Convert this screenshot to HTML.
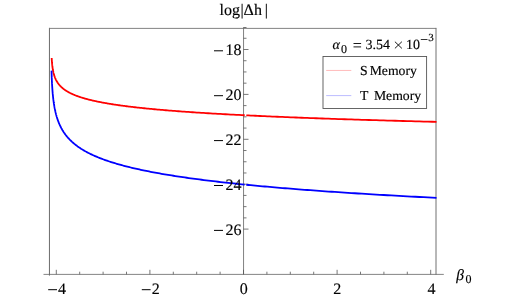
<!DOCTYPE html>
<html><head><meta charset="utf-8"><style>
html,body{margin:0;padding:0;background:#fff;}
body{width:518px;height:300px;overflow:hidden;position:relative;font-family:"Liberation Serif",serif;color:#000;}
svg{position:absolute;left:0;top:0;will-change:transform;}
text{font-family:"Liberation Serif",serif;fill:#000;text-rendering:geometricPrecision;stroke:#000;stroke-width:0.15px;}
</style></head><body>
<svg width="518" height="300" viewBox="0 0 518 300">
<g fill="none">
<line x1="49.45" y1="275.6" x2="49.45" y2="27.9" stroke="#5a5a5a" stroke-width="0.9"/>
<line x1="49" y1="28.4" x2="436.2" y2="28.4" stroke="#747474" stroke-width="0.9"/>
<line x1="436.0" y1="27.9" x2="436.0" y2="274.7" stroke="#707070" stroke-width="1"/>
<line x1="43.5" y1="274.4" x2="443.8" y2="274.4" stroke="#666" stroke-width="0.8"/>
<line x1="243.55" y1="27.3" x2="243.55" y2="274.4" stroke="#6a6a6a" stroke-width="0.85"/>
<g stroke="#555" stroke-width="0.8">
<line x1="56.30" y1="274.4" x2="56.30" y2="269.79999999999995"/>
<line x1="79.70" y1="274.4" x2="79.70" y2="271.7"/>
<line x1="103.10" y1="274.4" x2="103.10" y2="271.7"/>
<line x1="126.50" y1="274.4" x2="126.50" y2="271.7"/>
<line x1="149.90" y1="274.4" x2="149.90" y2="269.79999999999995"/>
<line x1="173.30" y1="274.4" x2="173.30" y2="271.7"/>
<line x1="196.70" y1="274.4" x2="196.70" y2="271.7"/>
<line x1="220.10" y1="274.4" x2="220.10" y2="271.7"/>
<line x1="243.50" y1="274.4" x2="243.50" y2="269.79999999999995"/>
<line x1="266.90" y1="274.4" x2="266.90" y2="271.7"/>
<line x1="290.30" y1="274.4" x2="290.30" y2="271.7"/>
<line x1="313.70" y1="274.4" x2="313.70" y2="271.7"/>
<line x1="337.10" y1="274.4" x2="337.10" y2="269.79999999999995"/>
<line x1="360.50" y1="274.4" x2="360.50" y2="271.7"/>
<line x1="383.90" y1="274.4" x2="383.90" y2="271.7"/>
<line x1="407.30" y1="274.4" x2="407.30" y2="271.7"/>
<line x1="430.70" y1="274.4" x2="430.70" y2="269.79999999999995"/>
<line x1="243.5" y1="27.50" x2="246.5" y2="27.50"/>
<line x1="243.5" y1="38.27" x2="246.5" y2="38.27"/>
<line x1="243.5" y1="49.50" x2="248.5" y2="49.50"/>
<line x1="243.5" y1="60.73" x2="246.5" y2="60.73"/>
<line x1="243.5" y1="71.95" x2="246.5" y2="71.95"/>
<line x1="243.5" y1="83.17" x2="246.5" y2="83.17"/>
<line x1="243.5" y1="94.40" x2="248.5" y2="94.40"/>
<line x1="243.5" y1="105.62" x2="246.5" y2="105.62"/>
<line x1="243.5" y1="116.85" x2="246.5" y2="116.85"/>
<line x1="243.5" y1="128.07" x2="246.5" y2="128.07"/>
<line x1="243.5" y1="139.30" x2="248.5" y2="139.30"/>
<line x1="243.5" y1="150.52" x2="246.5" y2="150.52"/>
<line x1="243.5" y1="161.75" x2="246.5" y2="161.75"/>
<line x1="243.5" y1="172.97" x2="246.5" y2="172.97"/>
<line x1="243.5" y1="184.20" x2="248.5" y2="184.20"/>
<line x1="243.5" y1="195.42" x2="246.5" y2="195.42"/>
<line x1="243.5" y1="206.65" x2="246.5" y2="206.65"/>
<line x1="243.5" y1="217.88" x2="246.5" y2="217.88"/>
<line x1="243.5" y1="229.10" x2="248.5" y2="229.10"/>
</g>
</g>
<path d="M51.69,58.00 L51.70,58.14 L51.71,58.29 L51.71,58.43 L51.72,58.57 L51.73,58.72 L51.74,58.86 L51.75,59.00 L51.75,59.15 L51.76,59.29 L51.77,59.43 L51.78,59.57 L51.79,59.72 L51.80,59.86 L51.81,60.00 L51.81,60.15 L51.82,60.29 L51.83,60.43 L51.84,60.58 L51.85,60.72 L51.86,60.86 L51.87,61.01 L51.88,61.15 L51.89,61.29 L51.90,61.44 L51.91,61.58 L51.92,61.72 L51.93,61.87 L51.95,62.01 L51.96,62.15 L51.97,62.29 L51.98,62.44 L51.99,62.58 L52.00,62.72 L52.02,62.87 L52.03,63.01 L52.04,63.15 L52.05,63.30 L52.07,63.44 L52.08,63.58 L52.09,63.73 L52.10,63.87 L52.12,64.01 L52.13,64.16 L52.15,64.30 L52.16,64.44 L52.17,64.58 L52.19,64.73 L52.20,64.87 L52.22,65.01 L52.23,65.16 L52.25,65.30 L52.27,65.44 L52.28,65.59 L52.30,65.73 L52.31,65.87 L52.33,66.02 L52.35,66.16 L52.37,66.30 L52.38,66.45 L52.40,66.59 L52.42,66.73 L52.44,66.88 L52.46,67.02 L52.47,67.16 L52.49,67.30 L52.51,67.45 L52.53,67.59 L52.55,67.73 L52.57,67.88 L52.59,68.02 L52.62,68.16 L52.64,68.31 L52.66,68.45 L52.68,68.59 L52.70,68.74 L52.72,68.88 L52.75,69.02 L52.77,69.17 L52.79,69.31 L52.82,69.45 L52.84,69.60 L52.87,69.74 L52.89,69.88 L52.92,70.02 L52.94,70.17 L52.97,70.31 L53.00,70.45 L53.02,70.60 L53.05,70.74 L53.08,70.88 L53.11,71.03 L53.14,71.17 L53.17,71.31 L53.19,71.46 L53.22,71.60 L53.26,71.74 L53.29,71.89 L53.32,72.03 L53.35,72.17 L53.38,72.31 L53.41,72.46 L53.45,72.60 L53.48,72.74 L53.52,72.89 L53.55,73.03 L53.59,73.17 L53.62,73.32 L53.66,73.46 L53.70,73.60 L53.73,73.75 L53.77,73.89 L53.81,74.03 L53.85,74.18 L53.89,74.32 L53.93,74.46 L53.97,74.61 L54.01,74.75 L54.05,74.89 L54.10,75.03 L54.14,75.18 L54.19,75.32 L54.23,75.46 L54.28,75.61 L54.32,75.75 L54.37,75.89 L54.42,76.04 L54.47,76.18 L54.51,76.32 L54.56,76.47 L54.62,76.61 L54.67,76.75 L54.72,76.90 L54.77,77.04 L54.83,77.18 L54.88,77.33 L54.94,77.47 L54.99,77.61 L55.05,77.75 L55.11,77.90 L55.17,78.04 L55.23,78.18 L55.29,78.33 L55.35,78.47 L55.41,78.61 L55.47,78.76 L55.54,78.90 L55.60,79.04 L55.67,79.19 L55.74,79.33 L55.80,79.47 L55.87,79.62 L55.94,79.76 L56.02,79.90 L56.09,80.04 L56.16,80.19 L56.24,80.33 L56.31,80.47 L56.39,80.62 L56.47,80.76 L56.55,80.90 L56.63,81.05 L56.71,81.19 L56.79,81.33 L56.88,81.48 L56.96,81.62 L57.05,81.76 L57.14,81.91 L57.23,82.05 L57.32,82.19 L57.41,82.34 L57.50,82.48 L57.60,82.62 L57.69,82.76 L57.79,82.91 L57.89,83.05 L57.99,83.19 L58.09,83.34 L58.20,83.48 L58.30,83.62 L58.41,83.77 L58.52,83.91 L58.63,84.05 L58.74,84.20 L58.85,84.34 L58.97,84.48 L59.09,84.63 L59.21,84.77 L59.33,84.91 L59.45,85.06 L59.57,85.20 L59.70,85.34 L59.83,85.48 L59.96,85.63 L60.09,85.77 L60.22,85.91 L60.36,86.06 L60.50,86.20 L60.64,86.34 L60.78,86.49 L60.92,86.63 L61.07,86.77 L61.22,86.92 L61.37,87.06 L61.52,87.20 L61.68,87.35 L61.84,87.49 L62.00,87.63 L62.16,87.77 L62.32,87.92 L62.49,88.06 L62.66,88.20 L62.83,88.35 L63.01,88.49 L63.19,88.63 L63.37,88.78 L63.55,88.92 L63.74,89.06 L63.93,89.21 L64.12,89.35 L64.31,89.49 L64.51,89.64 L64.71,89.78 L64.91,89.92 L65.12,90.07 L65.33,90.21 L65.54,90.35 L65.76,90.49 L65.98,90.64 L66.20,90.78 L66.43,90.92 L66.66,91.07 L66.89,91.21 L67.12,91.35 L67.36,91.50 L67.61,91.64 L67.86,91.78 L68.11,91.93 L68.36,92.07 L68.62,92.21 L68.88,92.36 L69.15,92.50 L69.42,92.64 L69.69,92.79 L69.97,92.93 L70.25,93.07 L70.54,93.21 L70.83,93.36 L71.13,93.50 L71.43,93.64 L71.73,93.79 L72.04,93.93 L72.36,94.07 L72.68,94.22 L73.00,94.36 L73.33,94.50 L73.66,94.65 L74.00,94.79 L74.34,94.93 L74.69,95.08 L75.05,95.22 L75.41,95.36 L75.77,95.50 L76.14,95.65 L76.52,95.79 L76.90,95.93 L77.28,96.08 L77.68,96.22 L78.08,96.36 L78.48,96.51 L78.89,96.65 L79.31,96.79 L79.73,96.94 L80.16,97.08 L80.60,97.22 L81.04,97.37 L81.49,97.51 L81.95,97.65 L82.41,97.80 L82.88,97.94 L83.36,98.08 L83.84,98.22 L84.34,98.37 L84.83,98.51 L85.34,98.65 L85.86,98.80 L86.38,98.94 L86.91,99.08 L87.45,99.23 L87.99,99.37 L88.55,99.51 L89.11,99.66 L89.68,99.80 L90.26,99.94 L90.85,100.09 L91.45,100.23 L92.05,100.37 L92.67,100.52 L93.29,100.66 L93.93,100.80 L94.57,100.94 L95.22,101.09 L95.89,101.23 L96.56,101.37 L97.24,101.52 L97.94,101.66 L98.64,101.80 L99.36,101.95 L100.08,102.09 L100.82,102.23 L101.57,102.38 L102.32,102.52 L103.10,102.66 L103.88,102.81 L104.67,102.95 L105.48,103.09 L106.29,103.23 L107.12,103.38 L107.97,103.52 L108.82,103.66 L109.69,103.81 L110.57,103.95 L111.47,104.09 L112.37,104.24 L113.30,104.38 L114.23,104.52 L115.18,104.67 L116.15,104.81 L117.12,104.95 L118.12,105.10 L119.13,105.24 L120.15,105.38 L121.19,105.53 L122.24,105.67 L123.31,105.81 L124.40,105.95 L125.50,106.10 L126.62,106.24 L127.76,106.38 L128.91,106.53 L130.08,106.67 L131.27,106.81 L132.48,106.96 L133.70,107.10 L134.95,107.24 L136.21,107.39 L137.49,107.53 L138.79,107.67 L140.11,107.82 L141.45,107.96 L142.81,108.10 L144.19,108.25 L145.59,108.39 L147.01,108.53 L148.45,108.67 L149.92,108.82 L151.41,108.96 L152.92,109.10 L154.45,109.25 L156.01,109.39 L157.58,109.53 L159.19,109.68 L160.82,109.82 L162.47,109.96 L164.14,110.11 L165.84,110.25 L167.57,110.39 L169.33,110.54 L171.11,110.68 L172.91,110.82 L174.75,110.96 L176.61,111.11 L178.50,111.25 L180.42,111.39 L182.36,111.54 L184.34,111.68 L186.35,111.82 L188.38,111.97 L190.45,112.11 L192.55,112.25 L194.68,112.40 L196.84,112.54 L199.03,112.68 L201.26,112.83 L203.52,112.97 L205.82,113.11 L208.15,113.26 L210.51,113.40 L212.91,113.54 L215.35,113.68 L217.82,113.83 L220.33,113.97 L222.88,114.11 L225.47,114.26 L228.09,114.40 L230.76,114.54 L233.46,114.69 L236.21,114.83 L239.00,114.97 L241.83,115.12 L244.70,115.26 M246.30,115.34 L248.53,115.45 L250.78,115.56 L253.05,115.66 L255.35,115.77 L257.68,115.88 L260.04,115.99 L262.42,116.10 L264.83,116.21 L267.27,116.32 L269.73,116.42 L272.22,116.53 L274.75,116.64 L277.30,116.75 L279.87,116.86 L282.48,116.97 L285.12,117.08 L287.79,117.18 L290.49,117.29 L293.22,117.40 L295.98,117.51 L298.77,117.62 L301.59,117.73 L304.45,117.84 L307.34,117.94 L310.26,118.05 L313.21,118.16 L316.20,118.27 L319.23,118.38 L322.28,118.49 L325.37,118.59 L328.50,118.70 L331.67,118.81 L334.86,118.92 L338.10,119.03 L341.37,119.14 L344.68,119.25 L348.03,119.35 L351.42,119.46 L354.84,119.57 L358.30,119.68 L361.81,119.79 L365.35,119.90 L368.93,120.01 L372.56,120.11 L376.22,120.22 L379.93,120.33 L383.68,120.44 L387.47,120.55 L391.31,120.66 L395.19,120.77 L399.11,120.87 L403.08,120.98 L407.09,121.09 L411.15,121.20 L415.26,121.31 L419.41,121.42 L423.61,121.53 L427.86,121.63 L432.15,121.74 L436.50,121.85" stroke="#ff0000" stroke-width="1.8" fill="none" stroke-linejoin="round"/>
<path d="M51.52,70.60 L51.53,70.88 L51.54,71.17 L51.55,71.45 L51.56,71.74 L51.56,72.02 L51.57,72.31 L51.58,72.59 L51.59,72.88 L51.60,73.16 L51.61,73.45 L51.62,73.73 L51.62,74.02 L51.63,74.30 L51.64,74.59 L51.65,74.87 L51.66,75.16 L51.67,75.44 L51.68,75.73 L51.69,76.01 L51.70,76.30 L51.71,76.58 L51.72,76.87 L51.73,77.15 L51.75,77.44 L51.76,77.72 L51.77,78.01 L51.78,78.29 L51.79,78.58 L51.80,78.86 L51.81,79.15 L51.83,79.43 L51.84,79.72 L51.85,80.00 L51.86,80.29 L51.88,80.57 L51.89,80.86 L51.90,81.14 L51.92,81.43 L51.93,81.71 L51.94,82.00 L51.96,82.28 L51.97,82.57 L51.99,82.85 L52.00,83.14 L52.02,83.42 L52.03,83.71 L52.05,83.99 L52.06,84.28 L52.08,84.56 L52.09,84.85 L52.11,85.13 L52.13,85.42 L52.14,85.70 L52.16,85.99 L52.18,86.27 L52.20,86.56 L52.21,86.84 L52.23,87.13 L52.25,87.41 L52.27,87.70 L52.29,87.98 L52.31,88.27 L52.33,88.55 L52.35,88.84 L52.37,89.12 L52.39,89.41 L52.41,89.69 L52.43,89.98 L52.45,90.26 L52.47,90.55 L52.49,90.83 L52.51,91.12 L52.54,91.40 L52.56,91.69 L52.58,91.97 L52.61,92.26 L52.63,92.54 L52.65,92.83 L52.68,93.11 L52.70,93.40 L52.73,93.68 L52.76,93.97 L52.78,94.25 L52.81,94.54 L52.84,94.82 L52.86,95.11 L52.89,95.39 L52.92,95.68 L52.95,95.96 L52.98,96.25 L53.01,96.53 L53.04,96.82 L53.07,97.10 L53.10,97.39 L53.13,97.67 L53.16,97.96 L53.19,98.24 L53.22,98.53 L53.26,98.81 L53.29,99.10 L53.32,99.38 L53.36,99.67 L53.39,99.95 L53.43,100.24 L53.47,100.52 L53.50,100.81 L53.54,101.09 L53.58,101.38 L53.62,101.66 L53.66,101.95 L53.69,102.23 L53.73,102.52 L53.78,102.80 L53.82,103.09 L53.86,103.37 L53.90,103.66 L53.94,103.94 L53.99,104.23 L54.03,104.51 L54.08,104.80 L54.12,105.08 L54.17,105.37 L54.22,105.65 L54.27,105.94 L54.31,106.22 L54.36,106.51 L54.41,106.79 L54.46,107.08 L54.52,107.36 L54.57,107.65 L54.62,107.93 L54.68,108.22 L54.73,108.50 L54.79,108.79 L54.84,109.07 L54.90,109.36 L54.96,109.64 L55.02,109.93 L55.08,110.21 L55.14,110.50 L55.20,110.78 L55.26,111.07 L55.33,111.35 L55.39,111.64 L55.46,111.92 L55.52,112.21 L55.59,112.49 L55.66,112.78 L55.73,113.06 L55.80,113.35 L55.87,113.63 L55.94,113.92 L56.01,114.20 L56.09,114.49 L56.17,114.77 L56.24,115.06 L56.32,115.34 L56.40,115.63 L56.48,115.91 L56.56,116.20 L56.64,116.48 L56.73,116.77 L56.81,117.05 L56.90,117.34 L56.99,117.62 L57.08,117.91 L57.17,118.19 L57.26,118.48 L57.35,118.76 L57.45,119.05 L57.54,119.33 L57.64,119.62 L57.74,119.90 L57.84,120.19 L57.94,120.47 L58.05,120.76 L58.15,121.04 L58.26,121.33 L58.37,121.61 L58.48,121.90 L58.59,122.18 L58.70,122.47 L58.81,122.75 L58.93,123.04 L59.05,123.32 L59.17,123.61 L59.29,123.89 L59.41,124.18 L59.54,124.46 L59.67,124.75 L59.80,125.03 L59.93,125.32 L60.06,125.60 L60.20,125.89 L60.33,126.17 L60.47,126.46 L60.61,126.74 L60.76,127.03 L60.90,127.31 L61.05,127.60 L61.20,127.88 L61.35,128.17 L61.51,128.45 L61.66,128.74 L61.82,129.02 L61.98,129.31 L62.15,129.59 L62.31,129.88 L62.48,130.16 L62.65,130.45 L62.82,130.73 L63.00,131.02 L63.18,131.30 L63.36,131.59 L63.55,131.87 L63.73,132.16 L63.92,132.44 L64.11,132.73 L64.31,133.01 L64.51,133.30 L64.71,133.58 L64.91,133.87 L65.12,134.15 L65.33,134.44 L65.55,134.72 L65.76,135.01 L65.98,135.29 L66.21,135.58 L66.43,135.86 L66.66,136.15 L66.90,136.43 L67.13,136.72 L67.37,137.00 L67.62,137.29 L67.86,137.57 L68.12,137.86 L68.37,138.14 L68.63,138.43 L68.89,138.71 L69.16,139.00 L69.43,139.28 L69.70,139.57 L69.98,139.85 L70.27,140.14 L70.55,140.42 L70.85,140.71 L71.14,140.99 L71.44,141.28 L71.75,141.56 L72.05,141.85 L72.37,142.13 L72.69,142.42 L73.01,142.70 L73.34,142.99 L73.67,143.27 L74.01,143.56 L74.35,143.84 L74.70,144.13 L75.05,144.41 L75.41,144.70 L75.78,144.98 L76.15,145.27 L76.52,145.55 L76.90,145.84 L77.29,146.12 L77.68,146.41 L78.08,146.69 L78.48,146.98 L78.89,147.26 L79.30,147.55 L79.73,147.83 L80.15,148.12 L80.59,148.40 L81.03,148.69 L81.48,148.97 L81.93,149.26 L82.39,149.54 L82.86,149.83 L83.34,150.11 L83.82,150.40 L84.31,150.68 L84.80,150.97 L85.31,151.25 L85.82,151.54 L86.34,151.82 L86.86,152.11 L87.40,152.39 L87.94,152.68 L88.49,152.96 L89.05,153.25 L89.62,153.53 L90.19,153.82 L90.78,154.10 L91.37,154.39 L91.97,154.67 L92.58,154.96 L93.20,155.24 L93.83,155.53 L94.47,155.81 L95.12,156.10 L95.77,156.38 L96.44,156.67 L97.12,156.95 L97.81,157.24 L98.50,157.52 L99.21,157.81 L99.93,158.09 L100.66,158.38 L101.40,158.66 L102.15,158.95 L102.91,159.23 L103.69,159.52 L104.47,159.80 L105.27,160.09 L106.08,160.37 L106.90,160.66 L107.73,160.94 L108.58,161.23 L109.44,161.51 L110.31,161.80 L111.19,162.08 L112.09,162.37 L113.00,162.65 L113.92,162.94 L114.86,163.22 L115.81,163.51 L116.78,163.79 L117.76,164.08 L118.75,164.36 L119.76,164.65 L120.79,164.93 L121.83,165.22 L122.88,165.50 L123.96,165.79 L125.04,166.07 L126.15,166.36 L127.27,166.64 L128.40,166.93 L129.56,167.21 L130.73,167.50 L131.92,167.78 L133.12,168.07 L134.35,168.35 L135.59,168.64 L136.85,168.92 L138.13,169.21 L139.43,169.49 L140.75,169.78 L142.08,170.06 L143.44,170.35 L144.82,170.63 L146.22,170.92 L147.64,171.20 L149.08,171.49 L150.54,171.77 L152.02,172.06 L153.53,172.34 L155.06,172.63 L156.61,172.91 L158.18,173.20 L159.78,173.48 L161.40,173.77 L163.04,174.05 L164.71,174.34 L166.41,174.62 L168.13,174.91 L169.88,175.19 L171.65,175.48 L173.45,175.76 L175.27,176.05 L177.12,176.33 L179.00,176.62 L180.91,176.90 L182.85,177.19 L184.81,177.47 L186.81,177.76 L188.83,178.04 L190.89,178.33 L192.97,178.61 L195.09,178.90 L197.23,179.18 L199.41,179.47 L201.63,179.75 L203.87,180.04 L206.15,180.32 L208.46,180.61 L210.81,180.89 L213.19,181.18 L215.61,181.46 L218.06,181.75 L220.55,182.03 L223.08,182.32 L225.64,182.60 L228.25,182.89 L230.89,183.17 L233.57,183.46 L236.29,183.74 L239.05,184.03 L241.86,184.31 L244.70,184.60 M246.30,184.76 L248.53,184.98 L250.78,185.19 L253.05,185.41 L255.36,185.63 L257.69,185.85 L260.04,186.07 L262.43,186.29 L264.83,186.50 L267.27,186.72 L269.74,186.94 L272.23,187.16 L274.75,187.38 L277.30,187.60 L279.88,187.81 L282.49,188.03 L285.13,188.25 L287.80,188.47 L290.50,188.69 L293.23,188.91 L295.99,189.12 L298.78,189.34 L301.60,189.56 L304.46,189.78 L307.35,190.00 L310.27,190.22 L313.23,190.43 L316.21,190.65 L319.24,190.87 L322.29,191.09 L325.39,191.31 L328.51,191.53 L331.68,191.74 L334.88,191.96 L338.11,192.18 L341.38,192.40 L344.69,192.62 L348.04,192.84 L351.43,193.05 L354.85,193.27 L358.31,193.49 L361.82,193.71 L365.36,193.93 L368.94,194.14 L372.57,194.36 L376.23,194.58 L379.94,194.80 L383.69,195.02 L387.48,195.24 L391.32,195.45 L395.19,195.67 L399.12,195.89 L403.09,196.11 L407.10,196.33 L411.16,196.55 L415.26,196.76 L419.41,196.98 L423.61,197.20 L427.86,197.42 L432.16,197.64 L436.50,197.86" stroke="#0000ff" stroke-width="1.8" fill="none" stroke-linejoin="round"/>
<rect x="323.0" y="56.5" width="103.6" height="52" fill="#fff" stroke="#555" stroke-width="0.9"/>
<line x1="326.2" y1="70.45" x2="351.3" y2="70.45" stroke="#ffbcbc" stroke-width="1"/>
<line x1="326.2" y1="95.6" x2="351.3" y2="95.6" stroke="#bcbcff" stroke-width="1"/>
<g font-size="13.7">
<text x="360" y="75.2">S</text><text x="369.7" y="75.2">Memory</text>
<text x="360" y="100.2">T</text><text x="373.9" y="100.2">Memory</text>
</g>
<g font-size="14">
<text x="332.4" y="48.5" font-style="italic">α</text>
<text x="341.0" y="52.6" font-size="12">0</text>
<path d="M353.5,43.5 H361.1 M353.5,46.9 H361.1" stroke="#000" stroke-width="0.9" fill="none"/>
<text x="365.4" y="48.5">3.54</text>
<path d="M394.9,41.7 L401.9,48.4 M401.9,41.7 L394.9,48.4" stroke="#000" stroke-width="0.9" fill="none"/>
<text x="406" y="48.5">10</text>
<text x="428.2" y="41.4" font-size="11">3</text>
</g>
<line x1="420.8" y1="39.5" x2="427.5" y2="39.5" stroke="#000" stroke-width="0.8"/>
<g font-size="16">
<text x="219.5" y="14.8">log</text><text x="240.4" y="14.8">|</text><text x="243.6" y="14.8">Δ</text><text x="254" y="14.8">h</text><text x="264.7" y="14.8">|</text>
</g>
<line x1="214" y1="50.80" x2="223" y2="50.80" stroke="#000" stroke-width="1.0"/>
<text x="225.6" y="55.00" font-size="16">18</text>
<line x1="214" y1="95.70" x2="223" y2="95.70" stroke="#000" stroke-width="1.0"/>
<text x="225.6" y="99.90" font-size="16">20</text>
<line x1="214" y1="140.60" x2="223" y2="140.60" stroke="#000" stroke-width="1.0"/>
<text x="225.6" y="144.80" font-size="16">22</text>
<line x1="214" y1="185.50" x2="223" y2="185.50" stroke="#000" stroke-width="1.0"/>
<text x="225.6" y="189.70" font-size="16">24</text>
<line x1="214" y1="230.40" x2="223" y2="230.40" stroke="#000" stroke-width="1.0"/>
<text x="225.6" y="234.60" font-size="16">26</text>
<line x1="48.20" y1="289.7" x2="57.00" y2="289.7" stroke="#000" stroke-width="1.0"/>
<text x="58.10" y="294" font-size="16">4</text>
<line x1="141.80" y1="289.7" x2="150.60" y2="289.7" stroke="#000" stroke-width="1.0"/>
<text x="151.70" y="294" font-size="16">2</text>
<text x="243.70" y="294" font-size="16" text-anchor="middle">0</text>
<text x="337.30" y="294" font-size="16" text-anchor="middle">2</text>
<text x="431.60" y="294" font-size="16" text-anchor="middle">4</text>
<text x="456.3" y="279.8" font-size="15.5" font-style="italic">β</text>
<text x="465.4" y="283.2" font-size="12">0</text>
</svg>
</body></html>
